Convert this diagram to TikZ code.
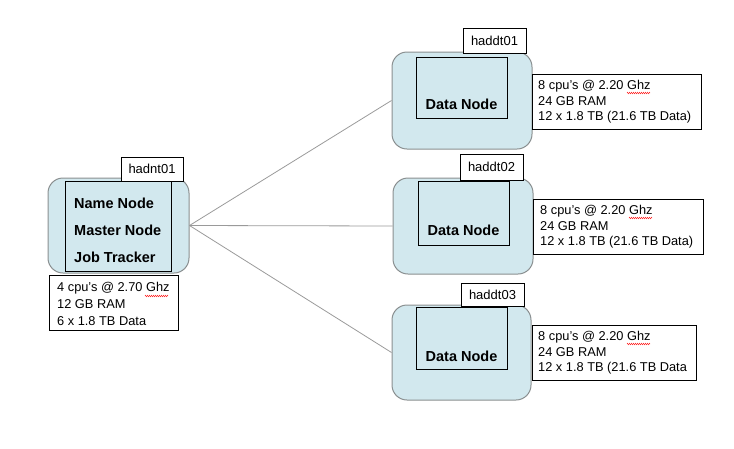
\documentclass[tikz,border=0pt]{standalone}
\usepackage{fontspec}
\setmainfont{Liberation Sans}
\usetikzlibrary{decorations.pathmorphing}
\definecolor{nodefill}{HTML}{D2E8EE}
\definecolor{nodeedge}{HTML}{8A8F90}
\definecolor{linkgray}{HTML}{9A9A9A}
\begin{document}
\begin{tikzpicture}[x=1pt,y=-1pt,
  hostbox/.style={draw=nodeedge,fill=nodefill,rounded corners=15pt,line width=1pt,minimum width=140pt,minimum height=96pt,inner sep=0pt},
  rolebox/.style={draw=black,line width=0.8pt,inner sep=0pt},
  tagbox/.style={draw=black,fill=white,line width=0.8pt,minimum width=63pt,minimum height=25pt,inner sep=0pt,font=\fontsize{13}{15}\selectfont},
  infobox/.style={draw=black,fill=white,line width=0.8pt,minimum height=55pt,inner sep=0pt},
  infotext/.style={anchor=west,align=left,inner sep=0pt,font=\fontsize{12.8}{15.5}\selectfont},
  roletext/.style={inner sep=0pt,font=\fontsize{14.5}{27}\selectfont\bfseries,align=left},
  link/.style={draw=linkgray,line width=0.8pt},
  squig/.style={draw=red,line width=0.4pt,decorate,decoration={zigzag,amplitude=0.7pt,segment length=2pt}}
]
\useasboundingbox (0,0) rectangle (734,448);
% master
\node[hostbox,minimum width=141pt,minimum height=95pt] (m) at (118.5,225.5) {};
\node[rolebox,minimum width=106pt,minimum height=90pt] (mi) at (118,226) {};
\node[roletext,anchor=west] (mt) at (74,230) {Name Node\\Master Node\\Job Tracker};
\node[tagbox,minimum width=62pt,minimum height=24pt] (mtag) at (152,169) {hadnt01};
\node[infobox,minimum width=129pt] (minf) at (113.5,302.5) {};
\node[infotext,font=\fontsize{12.8}{16.8}\selectfont] (mit) at (57,304) {4 cpu's @ 2.70 Ghz\\12 GB RAM\\6 x 1.8 TB Data};
\draw[squig] (145,296) -- (168,296);
% data node 1
\node[hostbox,minimum height=97pt] (d1) at (462,100.5) {};
\node[rolebox,minimum width=91pt,minimum height=61pt] (d1i) at (461.5,87.5) {};
\node[roletext] (d1t) at (461.5,104) {Data Node};
\node[tagbox] (d1tag) at (494.5,40.5) {haddt01};
\node[infobox,minimum width=169pt] (d1inf) at (616.5,101.5) {};
\node[infotext] (d1it) at (538,102) {8 cpu's @ 2.20 Ghz\\24 GB RAM\\12 x 1.8 TB (21.6 TB Data)};
\draw[squig] (627,93) -- (650,93);
% data node 2
\node[hostbox] (d2) at (463,226) {};
\node[rolebox,minimum width=91pt,minimum height=64pt] (d2i) at (463.5,213) {};
\node[roletext] (d2t) at (463.5,230) {Data Node};
\node[tagbox,minimum height=26pt] (d2tag) at (491.5,167) {haddt02};
\node[infobox,minimum width=170pt] (d2inf) at (618,226.5) {};
\node[infotext] (d2it) at (540,227) {8 cpu's @ 2.20 Ghz\\24 GB RAM\\12 x 1.8 TB (21.6 TB Data)};
\draw[squig] (629,218) -- (652,218);
% data node 3
\node[hostbox,minimum width=139pt,minimum height=95pt] (d3) at (461.5,352.5) {};
\node[rolebox,minimum width=91pt,minimum height=62pt] (d3i) at (461.5,338) {};
\node[roletext] (d3t) at (461.5,356) {Data Node};
\node[tagbox,minimum height=23pt] (d3tag) at (492.5,294.5) {haddt03};
\node[infobox,minimum width=164pt] (d3inf) at (614,352.5) {};
\node[infotext] (d3it) at (538,353) {8 cpu's @ 2.20 Ghz\\24 GB RAM\\12 x 1.8 TB (21.6 TB Data};
\draw[squig] (627,344) -- (650,344);
% links
\draw[link] (m.east) -- (d1.west);
\draw[link] (m.east) -- (d2.west);
\draw[link] (m.east) -- (d3.west);
\end{tikzpicture}
\end{document}
